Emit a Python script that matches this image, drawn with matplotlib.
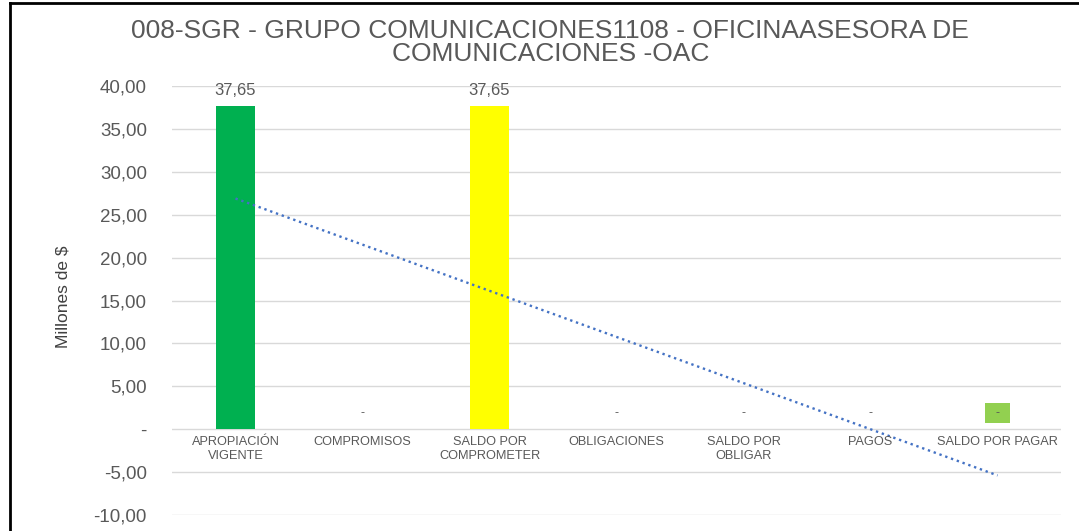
import numpy as np
import matplotlib.pyplot as plt
from matplotlib.lines import Line2D

categorias = ["APROPIACIÓN\nVIGENTE", "COMPROMISOS", "SALDO POR\nCOMPROMETER",
              "OBLIGACIONES", "SALDO POR\nOBLIGAR", "PAGOS", "SALDO POR PAGAR"]
valores = [37.65, 0, 37.65, 0, 0, 0, 0]
colores = ["#00B050", "#4472C4", "#FFFF00", "#4472C4", "#4472C4", "#4472C4", "#92D050"]

gris = "#595959"
plt.rcParams['font.family'] = ['Liberation Sans', 'DejaVu Sans']

fig = plt.figure(figsize=(10.79, 5.31), dpi=100)
ax = fig.add_axes([0.1594, 0.030, 0.824, 0.808])

x = np.arange(len(categorias))
ax.bar(x, valores, width=0.31, color=colores, zorder=2)

# etiquetas de datos
for xi, v, c in zip(x, valores, colores):
    if v > 0:
        ax.text(xi, v + 0.9, f"{v:.2f}".replace(".", ","), ha="center", va="bottom",
                fontsize=12, color=gris)
    elif xi == len(categorias) - 1:
        ax.text(xi, 1.87, "  -  ", ha="center", va="center", fontsize=9, color=gris,
                bbox=dict(boxstyle="square,pad=0.3", fc=c, ec="none"))
    else:
        ax.text(xi, 1.87, "-", ha="center", va="center", fontsize=9, color=gris)

# linea de tendencia lineal
m, b = np.polyfit(x, valores, 1)
ax.plot(x, m * x + b, linestyle=(0, (1, 1.6)), color="#4472C4", lw=1.7, zorder=3)

# etiquetas de categoria debajo de cero
for xi, cat in zip(x, categorias):
    ax.text(xi, -0.75, cat, ha="center", va="top", fontsize=9.2, color=gris, linespacing=1.25)

ax.set_xlim(-0.5, len(categorias) - 0.5)
ax.set_ylim(-10, 40)
yt = np.arange(-10, 41, 5)
ax.set_yticks(yt)
ax.set_yticklabels(["-" if t == 0 else f"{t:.2f}".replace(".", ",") for t in yt],
                   fontsize=13.5, color=gris)
ax.tick_params(axis="y", length=0, pad=18)
ax.set_xticks([])
ax.grid(axis="y", color="#D9D9D9", lw=1, zorder=0)
for s in ax.spines.values():
    s.set_visible(False)
ax.set_ylabel("Millones de $", fontsize=12.5, color="#404040")
ax.yaxis.set_label_coords(-0.114, 0.51)

fig.text(0.51, 0.965, "008-SGR - GRUPO COMUNICACIONES1108 - OFICINAASESORA DE\nCOMUNICACIONES -OAC",
         ha="center", va="top", fontsize=19, color=gris, linespacing=0.98)

# marco de la imagen (solo izquierda y arriba)
fig.add_artist(Line2D([0.0095, 0.0095], [0, 0.994], transform=fig.transFigure, color="black", lw=2))
fig.add_artist(Line2D([0.0095, 1.0], [0.994, 0.994], transform=fig.transFigure, color="black", lw=2))

fig.savefig("out.png", dpi=100)
